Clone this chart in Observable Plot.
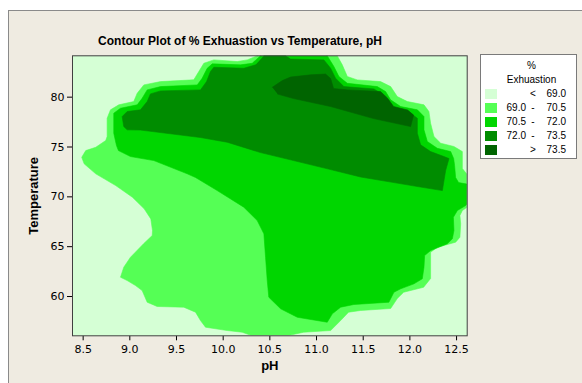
<!DOCTYPE html>
<html><head><meta charset="utf-8">
<script src="https://cdn.jsdelivr.net/npm/d3@7"></script>
<script src="https://cdn.jsdelivr.net/npm/@observablehq/plot@0.6"></script>
<style>
html,body{margin:0;padding:0;background:#fff;}
#wrap{position:relative;width:582px;height:383px;overflow:hidden;}
#panel{position:absolute;left:8px;top:10px;right:0;bottom:0;background:#efebe1;border-top:1px solid #8a8a8a;border-left:1px solid #8a8a8a;}
#title{position:absolute;left:0;width:480px;top:34px;text-align:center;font:bold 12px "Liberation Sans",sans-serif;color:#000;white-space:nowrap;}
#chart{position:absolute;left:0;top:0;}
#chart svg{background:transparent;overflow:visible;}
#chart g[aria-label="x-axis label"] text, #chart g[aria-label="y-axis label"] text{font-weight:bold;font-size:13px;font-family:"Liberation Sans",sans-serif;}
#legend{position:absolute;left:480px;top:54px;width:95px;height:103px;background:#fff;border:1px solid #7a7a7a;font:10px "Liberation Sans",sans-serif;color:#000;}
#legend span,#legend div{position:absolute;white-space:nowrap;}
</style></head>
<body><div id="wrap"><div id="panel"></div><div id="title"></div><div id="chart"></div><div id="legend"></div></div>
<script>
const titleText = "Contour Plot of % Exhuastion vs Temperature, pH";
const xLabel = "pH";
const yLabel = "Temperature";
const xTicks = [8.5, 9.0, 9.5, 10.0, 10.5, 11.0, 11.5, 12.0, 12.5];
const yTicks = [60, 65, 70, 75, 80];
const xDomain = [8.386, 12.614];
const yDomain = [56.06, 84.15];

const legendTitle = ["%", "Exhuastion"];
const legendLow = ["", "69.0", "70.5", "72.0", ""];
const legendOp = ["<", "-", "-", "-", ">"];
const legendHigh = ["69.0", "70.5", "72.0", "73.5", "73.5"];
const levelColors = ["#d5ffd5", "#55ff55", "#00d600", "#008c00", "#006400"];

// region where % Exhuastion >= 69.0  [pH, Temperature]
const region69 = [[10.365,84.15],[10.258,83.74],[10.151,83.57],[9.900,83.74],[9.793,83.40],[9.739,82.57],[9.685,81.74],[9.329,81.56],[9.150,81.23],[9.079,80.39],[9.042,79.56],[8.882,79.23],[8.793,78.73],[8.757,77.88],[8.757,76.05],[8.742,75.65],[8.635,74.97],[8.528,74.64],[8.485,73.97],[8.511,73.31],[8.635,72.31],[8.849,71.13],[9.028,69.96],[9.154,68.80],[9.225,67.79],[9.243,66.62],[9.240,66.12],[9.150,65.32],[9.007,63.94],[8.935,62.94],[8.900,61.94],[8.972,61.60],[9.061,61.10],[9.132,60.60],[9.186,59.43],[9.293,59.00],[9.578,58.93],[9.704,58.43],[9.757,57.59],[9.811,56.92],[10.043,56.59],[10.204,56.42],[10.311,56.06],[10.686,56.06],[10.861,56.42],[11.151,56.59],[11.258,57.59],[11.343,58.43],[11.472,58.60],[11.794,58.80],[11.865,59.80],[11.933,60.43],[12.147,60.93],[12.222,61.81],[12.222,64.44],[12.294,64.94],[12.490,65.45],[12.536,65.95],[12.544,67.29],[12.536,68.12],[12.562,68.63],[12.614,68.96],[12.614,72.24],[12.562,72.84],[12.562,74.54],[12.472,75.05],[12.330,75.38],[12.258,76.05],[12.222,77.38],[12.204,78.56],[12.151,79.23],[11.973,79.56],[11.865,80.06],[11.794,81.06],[11.686,81.56],[11.437,81.73],[11.330,82.07],[11.276,83.24],[11.222,84.15]];

// region where % Exhuastion >= 70.5
const region705 = [[10.400,84.15],[10.311,83.40],[10.186,83.24],[9.883,83.34],[9.829,82.90],[9.775,81.90],[9.722,81.23],[9.329,81.06],[9.186,80.73],[9.132,79.89],[9.079,79.23],[8.900,78.89],[8.828,78.39],[8.828,76.38],[8.857,75.15],[8.878,74.64],[9.007,74.04],[9.257,73.64],[9.615,72.31],[9.704,71.94],[9.936,70.63],[10.221,68.96],[10.365,67.62],[10.436,66.29],[10.454,63.94],[10.472,61.60],[10.489,59.93],[10.615,58.77],[10.794,57.92],[11.115,57.42],[11.169,58.26],[11.258,58.93],[11.400,59.20],[11.775,59.43],[11.829,60.43],[11.901,60.77],[12.043,61.27],[12.133,61.78],[12.151,62.94],[12.158,64.11],[12.222,64.61],[12.401,65.29],[12.455,65.79],[12.472,66.62],[12.466,67.95],[12.509,68.63],[12.598,69.13],[12.614,69.30],[12.614,71.28],[12.522,71.43],[12.490,71.94],[12.479,73.14],[12.469,73.84],[12.437,74.54],[12.294,74.87],[12.187,75.55],[12.151,76.72],[12.151,78.05],[12.080,78.73],[11.901,79.06],[11.794,79.73],[11.740,80.56],[11.651,81.06],[11.330,81.39],[11.240,82.07],[11.186,83.07],[11.115,84.15]];

// region where % Exhuastion >= 72.0
const region72 = [[10.436,84.15],[10.668,84.15],[10.722,83.82],[11.079,83.74],[11.151,82.90],[11.204,81.90],[11.293,81.06],[11.615,80.83],[11.686,80.39],[11.740,79.73],[11.812,78.89],[12.008,78.39],[12.080,77.88],[12.080,76.38],[12.115,75.22],[12.222,74.54],[12.365,74.04],[12.419,73.84],[12.383,72.64],[12.348,70.63],[12.115,70.98],[11.829,71.43],[11.472,71.99],[11.118,72.81],[10.754,73.64],[10.400,74.44],[10.043,75.48],[9.757,75.95],[9.114,76.70],[8.972,76.72],[8.935,77.05],[8.918,78.05],[8.972,78.56],[9.114,78.73],[9.186,79.56],[9.221,80.33],[9.329,80.63],[9.757,80.73],[9.822,81.56],[9.864,82.57],[9.900,83.00],[10.221,82.90],[10.347,83.24]];

// region where % Exhuastion > 73.5
const region735 = [[10.526,80.99],[10.633,81.66],[10.722,82.02],[10.936,82.24],[11.097,82.32],[11.151,81.87],[11.183,80.86],[11.333,80.73],[11.686,80.56],[11.762,79.89],[11.826,79.06],[11.976,78.71],[12.040,78.20],[12.008,77.05],[11.611,77.85],[11.151,79.06],[10.754,79.86],[10.583,80.31]];

const regions = [region69, region705, region72, region735];

document.getElementById("title").textContent = titleText;

const marks = [Plot.frame({fill: levelColors[0]})];
regions.forEach((r, i) => {
  marks.push(Plot.line(r, {x: d => d[0], y: d => d[1], fill: levelColors[i + 1], stroke: levelColors[i + 1], strokeWidth: 0.6, clip: true}));
});
marks.push(Plot.frame({stroke: "#404040", strokeWidth: 1}));

const chart = Plot.plot({
  width: 582, height: 383,
  marginLeft: 72, marginRight: 115.3, marginTop: 55.3, marginBottom: 47.7,
  style: {fontFamily: "DejaVu Sans, sans-serif", fontSize: "11px", color: "#000", background: "transparent"},
  x: {domain: xDomain, ticks: xTicks, tickFormat: d3.format(".1f"), tickSize: 5, tickPadding: 4, label: xLabel, labelAnchor: "center", labelArrow: "none", labelOffset: 34},
  y: {domain: yDomain, ticks: yTicks, tickSize: 5, tickPadding: 3, label: yLabel, labelAnchor: "center", labelArrow: "none", labelOffset: 44},
  marks
});
document.getElementById("chart").appendChild(chart);

const lg = document.getElementById("legend");
legendTitle.forEach((t, i) => {
  const el = document.createElement("div");
  el.textContent = t;
  el.style.left = "3px"; el.style.width = "95px"; el.style.textAlign = "center";
  el.style.top = (5 + i * 14) + "px";
  lg.appendChild(el);
});
legendOp.forEach((op, i) => {
  const top = 33 + i * 14;
  const sw = document.createElement("span");
  sw.style.left = "4px"; sw.style.top = (top + 1) + "px"; sw.style.width = "12px"; sw.style.height = "10px";
  sw.style.background = levelColors[i];
  lg.appendChild(sw);
  const lo = document.createElement("span");
  lo.textContent = legendLow[i];
  lo.style.left = "20px"; lo.style.width = "25px"; lo.style.textAlign = "right"; lo.style.top = top + "px";
  lg.appendChild(lo);
  const o = document.createElement("span");
  o.textContent = op;
  o.style.left = "48px"; o.style.width = "8px"; o.style.textAlign = "center"; o.style.top = top + "px";
  lg.appendChild(o);
  const hi = document.createElement("span");
  hi.textContent = legendHigh[i];
  hi.style.left = "58px"; hi.style.width = "27px"; hi.style.textAlign = "right"; hi.style.top = top + "px";
  lg.appendChild(hi);
});
</script>
</body></html>
